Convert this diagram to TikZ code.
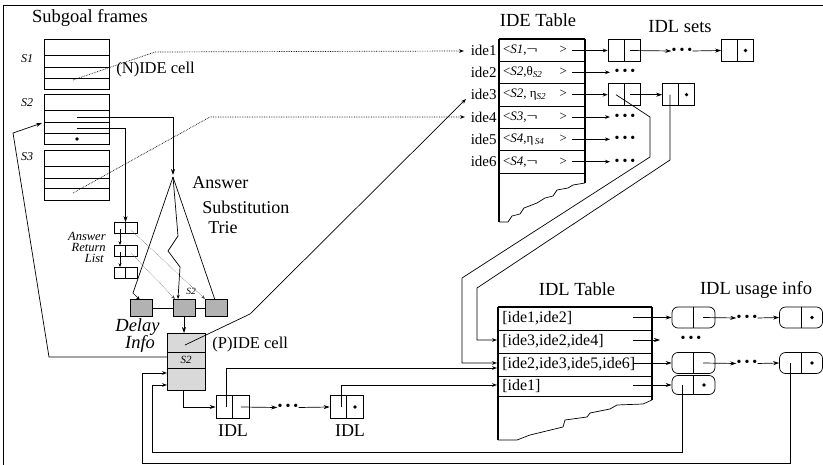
\documentclass[tikz,border=0pt]{standalone}
\usepackage{fontspec}
\setmainfont{Liberation Serif}
\usetikzlibrary{arrows.meta,calc}
\begin{document}
\begin{tikzpicture}[x=1pt,y=-1pt, line width=0.7pt,
  ttl/.style={font=\fontsize{18.5}{20}\selectfont, inner sep=0},
  lbl/.style={font=\fontsize{15}{17}\selectfont, inner sep=0},
  cell/.style={font=\fontsize{13}{14}\selectfont, inner sep=0},
  row/.style={font=\fontsize{16}{17}\selectfont, inner sep=0, anchor=west},
  op/.style={-{Stealth[open,length=5pt,width=3.8pt]}},
  fa/.style={-{Stealth[length=6pt,width=4pt]}},
  sa/.style={-{Stealth[length=4pt,width=3pt]}},
  bx/.style={draw, minimum width=32pt, minimum height=22pt, inner sep=0},
  rbx/.style={draw, rounded corners=6pt, minimum width=43pt, minimum height=21pt, inner sep=0},
  leaf/.style={draw, fill=black!30, minimum width=22pt, minimum height=17pt, inner sep=0},
  rl/.style={draw, minimum width=23pt, minimum height=11pt, inner sep=0},
  dts/.style={font=\fontsize{14}{14}\selectfont, inner sep=0},
  dotl/.style={densely dotted, line width=0.7pt},
  thk/.style={line width=1.8pt},
]
\useasboundingbox (0,0) rectangle (823,465);
% outer frame
\draw (3,466) -- (3,5) -- (824,5);

% ---------- Subgoal frames ----------
\node[ttl] (tsub) at (90,18) {Subgoal frames};
\node[draw, minimum width=65pt, minimum height=50pt, inner sep=0] (f1) at (76.5,64) {};
\node[draw, minimum width=65pt, minimum height=50pt, inner sep=0] (f2) at (76.5,119) {};
\node[draw, minimum width=65pt, minimum height=50pt, inner sep=0] (f3) at (76.5,175) {};
\foreach \y in {55,67,78} \draw (44,\y) -- (109,\y);
\foreach \y in {110,122,133} \draw (44,\y) -- (109,\y);
\foreach \y in {166,178,188} \draw (44,\y) -- (109,\y);
\fill (77,139) circle (1.8pt);
\node[font=\fontsize{12}{13}\selectfont\itshape, inner sep=0] (ls1) at (27,59) {S1};
\node[font=\fontsize{12}{13}\selectfont\itshape, inner sep=0] (ls2) at (27,103) {S2};
\node[font=\fontsize{12}{13}\selectfont\itshape, inner sep=0] (ls3) at (27,157) {S3};
\node[font=\fontsize{16.5}{17}\selectfont, inner sep=0, anchor=west] (nide) at (116,70) {(N)IDE cell};

% ---------- Answer substitution trie ----------
\coordinate (apex) at (173,177);
\node[font=\fontsize{18}{19}\selectfont, inner sep=0, anchor=west] (tans) at (192,183) {Answer};
\node[font=\fontsize{18}{19}\selectfont, inner sep=0, anchor=west] (tsubst) at (202,207) {Substitution};
\node[font=\fontsize{18}{19}\selectfont, inner sep=0, anchor=west] (ttrie) at (208,228) {Trie};
\node[leaf] (la) at (141,308) {};
\node[leaf] (lb) at (184,308) {};
\node[leaf] (lc) at (216,308) {};
\draw (la.east) -- (lb.west);
\draw (lb.east) -- (lc.west);
\draw[sa] (apex) -- (133,293) -- (140,300);
\draw (apex) -- (215,300);
\draw[sa] (apex) -- (178,236) -- (168,251) -- (180,267) -- (178,299);
\node[font=\fontsize{9.5}{10}\selectfont\itshape, inner sep=0] (s2t) at (191,291) {S2};
\draw[fa] (77,117) -- (173,117) -- (173,175);

% answer return list
\node[rl] (r1) at (125.5,228) {};
\node[rl] (r2) at (125.5,251) {};
\node[rl] (r3) at (125.5,273) {};
\draw (r1.north) -- (r1.south);
\draw (r2.north) -- (r2.south);
\draw (r3.north) -- (r3.south);
\draw[sa] (120,229) -- (r2.north -| 120,0);
\draw[sa] (120,252) -- (r3.north -| 120,0);
\draw[fa] (77,128) -- (125.5,128) -- (r1.north);
\draw[densely dotted, line width=0.5pt, black!70, sa] (131,230) -- (205,299);
\draw[densely dotted, line width=0.5pt, black!70, sa] (131,253) -- (175,299);
\node[font=\fontsize{12.5}{13}\selectfont\itshape, inner sep=0, anchor=east] (aa) at (106,236) {Answer};
\node[font=\fontsize{12.5}{13}\selectfont\itshape, inner sep=0, anchor=east] (ab) at (106,247) {Return};
\node[font=\fontsize{12.5}{13}\selectfont\itshape, inner sep=0, anchor=east] (ac) at (104,258) {List};

% ---------- PIDE cell ----------
\node[draw, fill=black!15, minimum width=38pt, minimum height=57pt, inner sep=0] (pide) at (186,361.5) {};
\draw (167,352) -- (205,352);
\draw (167,368) -- (205,368);
\node[font=\fontsize{11}{12}\selectfont\itshape, inner sep=0] (ps2) at (186,360) {S2};
\draw[fa] (lb.south) -- (184,333);
\node[font=\fontsize{18.5}{19}\selectfont\itshape, inner sep=0] (dl1) at (137.5,327) {Delay};
\node[font=\fontsize{18.5}{19}\selectfont\itshape, inner sep=0] (dl2) at (140,344) {Info};
\node[font=\fontsize{16.5}{17}\selectfont, inner sep=0, anchor=west] (pidel) at (212,345) {(P)IDE cell};
\draw[fa] (167,357) -- (49,357) -- (13,133) -- (42,123);

% ---------- IDE table ----------
\node[ttl] (tide) at (538,20) {IDE Table};
\draw[thk] (499,39) -- (499,222);
\draw (499,222) -- (508,222) -- (512,216) -- (520,214) -- (524,208) -- (537,203) -- (545,198) -- (553,196) -- (557,190) -- (568,188) -- (573,185) -- (585,183);
\draw[thk] (585,183) -- (585,39);
\draw[line width=1.1pt] (499,39) -- (585,39);
\foreach \y in {61.3,83.7,106,128.3,150.7,173} \draw (499,\y) -- (585,\y);
\node[lbl, anchor=east] (i1) at (497,50) {ide1};
\node[lbl, anchor=east] (i2) at (497,72.3) {ide2};
\node[lbl, anchor=east] (i3) at (497,94.7) {ide3};
\node[lbl, anchor=east] (i4) at (497,117) {ide4};
\node[lbl, anchor=east] (i5) at (497,139.3) {ide5};
\node[lbl, anchor=east] (i6) at (497,161.7) {ide6};
\node[cell] (c1) at (535,50) {\makebox[64pt][s]{<\textit{S1},\scalebox{1.5}[1]{¬}\hfill>}};
\node[cell] (c2) at (535,72.3) {\makebox[64pt][s]{<\textit{S2},θ\textsubscript{\textit{S2}}\hfill>}};
\node[cell] (c3) at (535,94.7) {\makebox[64pt][s]{<\textit{S2}, η\textsubscript{\textit{S2}}\hfill>}};
\node[cell] (c4) at (535,117) {\makebox[64pt][s]{<\textit{S3},\scalebox{1.5}[1]{¬}\hfill>}};
\node[cell] (c5) at (535,139.3) {\makebox[64pt][s]{<\textit{S4},η\textsubscript{\,\textit{S4}}\hfill>}};
\node[cell] (c6) at (535,161.7) {\makebox[64pt][s]{<\textit{S4},\scalebox{1.5}[1]{¬}\hfill>}};

% arrows into IDE table
\coordinate (in1) at (464,51);
\coordinate (in4) at (465,117);
\coordinate (in3) at (466,99);
\draw[dotl, op] (73,80) -- (155,52) -- (in1);
\draw[dotl, op] (73,193) -- (210,117) -- (in4);
\draw[op] (185,345) -- (250,314) -- (in3);

% ---------- IDL sets ----------
\node[ttl] (tsets) at (680,27) {IDL sets};
\node[bx] (b11) at (624,50.5) {};
\node[bx] (b12) at (737.5,50.5) {};
\node[bx] (b31) at (624,94.7) {};
\node[bx] (b32) at (678.5,94.7) {};
\foreach \b in {b11,b12,b31,b32} \draw (\b.north) -- (\b.south);
\fill (745.5,50.5) circle (1.8pt);
\fill (686.5,94.7) circle (1.8pt);
\draw[op] (572,50.5) -- (b11.west);
\draw[op] (572,72.3) -- (610,72.3);
\draw[op] (572,94.7) -- (b31.west);
\draw[op] (572,117) -- (610,117);
\draw[op] (572,139.3) -- (610,139.3);
\draw[op] (572,161.7) -- (610,161.7);
\node[dts] (d11) at (682,51) {\textbullet\hspace{3pt}\textbullet\hspace{3pt}\textbullet};
\node[dts] (d2) at (625,72.5) {\textbullet\hspace{3pt}\textbullet\hspace{3pt}\textbullet};
\node[dts] (d4) at (625,117.2) {\textbullet\hspace{3pt}\textbullet\hspace{3pt}\textbullet};
\node[dts] (d5) at (625,139.5) {\textbullet\hspace{3pt}\textbullet\hspace{3pt}\textbullet};
\node[dts] (d6) at (625,162) {\textbullet\hspace{3pt}\textbullet\hspace{3pt}\textbullet};
\draw[fa] (630,50.5) -- (d11.west);
\draw[fa] (d11.east) -- (b12.west);
\draw[fa] (630,94.7) -- (b32.west);

% ---------- IDL table ----------
\node[ttl] (tidl) at (577,289) {IDL Table};
\draw[thk] (498,307) -- (498,440);
\draw (498,440) -- (517,440) -- (530,435) -- (563,427) -- (565,420) -- (587,417) -- (590,413) -- (610,409) -- (617,405) -- (643,404) -- (652,400);
\draw[thk] (652,400) -- (652,307);
\draw[line width=1.1pt] (498,307) -- (652,307);
\foreach \y in {330,353,376,396} \draw (498,\y) -- (652,\y);
\node[row] (t1) at (502,318.5) {[ide1,ide2]};
\node[row] (t2) at (502,341.5) {[ide3,ide2,ide4]};
\node[row] (t3) at (502,364.5) {[ide2,ide3,ide5,ide6]};
\node[row] (t4) at (502,386) {[ide1]};

% connectors from IDL sets to IDL table
\draw[op] (616,94.7) -- (650,117) -- (650,157) -- (462,278) -- (462,363) -- (497,363);
\draw[op] (670,94.7) -- (670,160) -- (477,288) -- (477,340) -- (497,340);

% ---------- IDL usage info ----------
\node[ttl] (tuse) at (756,290) {IDL usage info};
\node[rbx] (u11) at (693.5,317.5) {};
\node[rbx] (u12) at (801,317.5) {};
\node[rbx] (u31) at (693.5,363) {};
\node[rbx] (u32) at (801,363) {};
\node[rbx, minimum height=19pt] (u41) at (693.5,385) {};
\foreach \b in {u11,u12,u31,u32,u41} \draw (\b.north) -- (\b.south);
\fill (812,317.5) circle (1.8pt);
\fill (812,363) circle (1.8pt);
\fill (704,385) circle (1.8pt);
\draw[fa] (633,317.5) -- (u11.west);
\draw[fa] (633,340) -- (660,340);
\draw[fa] (633,363) -- (u31.west);
\draw[fa] (633,385) -- (u41.west);
\node[dts] (du1) at (747,318) {\textbullet\hspace{3pt}\textbullet\hspace{3pt}\textbullet};
\node[dts] (du2) at (691,339.5) {\textbullet\hspace{3pt}\textbullet\hspace{3pt}\textbullet};
\node[dts] (du3) at (747,363.5) {\textbullet\hspace{3pt}\textbullet\hspace{3pt}\textbullet};
\draw[fa] (703,317.5) -- (du1.west);
\draw[fa] (du1.east) -- (u12.west);
\draw[fa] (703,363) -- (du3.west);
\draw[fa] (du3.east) -- (u32.west);

% ---------- bottom IDL chain ----------
\node[bx, minimum width=33pt, minimum height=23pt] (idl1) at (232.5,407) {};
\node[bx, minimum width=33pt, minimum height=23pt] (idl2) at (346.5,407) {};
\draw (idl1.north) -- (idl1.south);
\draw (idl2.north) -- (idl2.south);
\fill (355,407) circle (1.8pt);
\node[font=\fontsize{18}{19}\selectfont, inner sep=0] (il1) at (233,431) {IDL};
\node[font=\fontsize{18}{19}\selectfont, inner sep=0] (il2) at (350,431) {IDL};
\draw[fa] (183,390) -- (183,407) -- (idl1.west);
\node[dts] (db) at (288,407.5) {\textbullet\hspace{3pt}\textbullet\hspace{3pt}\textbullet};
\draw[fa] (241,407) -- (db.west);
\draw[fa] (db.east) -- (idl2.west);
\draw[op] (226,407) -- (226,368) -- (497,368);
\draw[op] (341,407) -- (341,385) -- (497,385);

% return connectors from usage info to PIDE cell
\draw[op] (682,385) -- (682,452) -- (152,452) -- (152,385) -- (167,385);
\draw[op] (790,363) -- (790,463) -- (142,463) -- (142,373) -- (167,373);
\end{tikzpicture}
\end{document}
